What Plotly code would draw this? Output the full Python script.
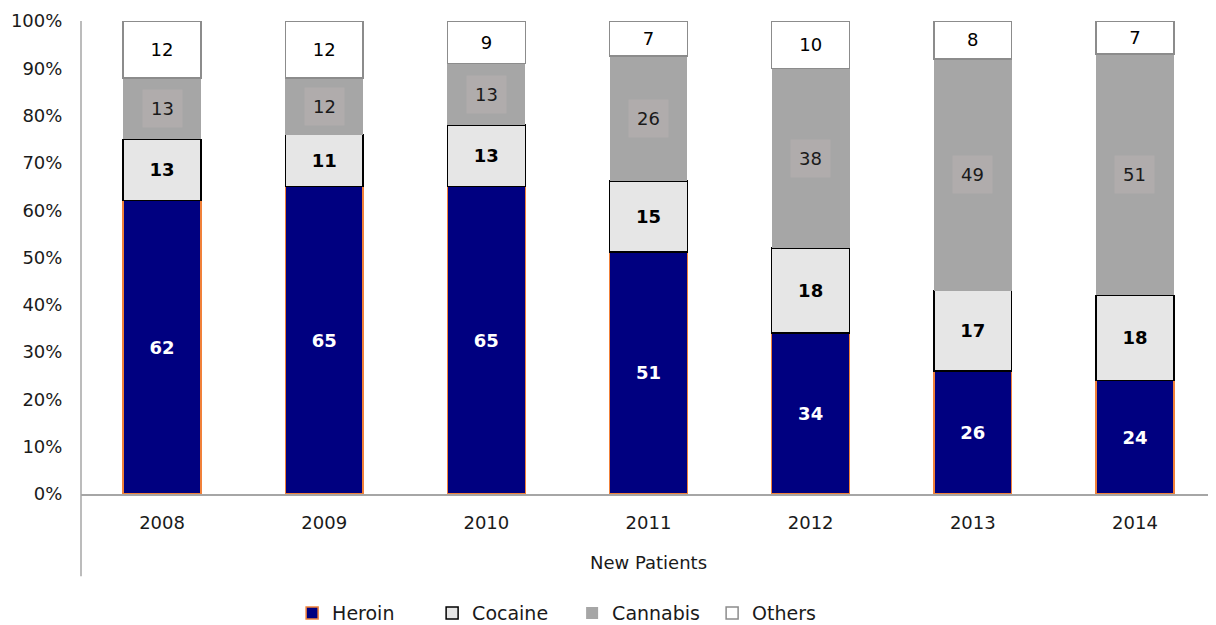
import plotly.graph_objects as go

years = ["2008", "2009", "2010", "2011", "2012", "2013", "2014"]
heroin = [62, 65, 65, 51.2, 34, 26, 24]
cocaine = [13, 11, 13, 15, 18, 17, 18]
cannabis = [13, 12, 13, 26.4, 38, 49, 51]
others = [12, 12, 9, 7.4, 10, 8, 7]
y_ticks = [0, 10, 20, 30, 40, 50, 60, 70, 80, 90, 100]
y_tick_text = [f"{v}%" for v in y_ticks]

FONT = "DejaVu Sans"

def lab(vals):
    return [str(int(round(v))) for v in vals]

fig = go.Figure()
fig.add_trace(go.Bar(
    name="Heroin", x=years, y=heroin, text=lab(heroin), textposition="inside",
    insidetextanchor="middle", textangle=0, constraintext="none",
    textfont=dict(color="white", size=18, family=FONT, weight="bold"),
    marker=dict(color="#000080", line=dict(color="#f0813a", width=1.5)),
))
fig.add_trace(go.Bar(
    name="Cocaine", x=years, y=cocaine, text=lab(cocaine), textposition="inside",
    insidetextanchor="middle", textangle=0, constraintext="none",
    textfont=dict(color="black", size=18, family=FONT, weight="bold"),
    marker=dict(color="#e6e6e6", line=dict(color="black", width=1.5)),
))
fig.add_trace(go.Bar(
    name="Cannabis", x=years, y=cannabis, textposition="none",
    marker=dict(color="#a6a6a6", line=dict(color="#a6a6a6", width=0)),
))
fig.add_trace(go.Bar(
    name="Others", x=years, y=others, text=lab(others), textposition="inside",
    insidetextanchor="middle", textangle=0, constraintext="none",
    textfont=dict(color="black", size=18, family=FONT),
    marker=dict(color="white", line=dict(color="#8c8c8c", width=1.5)),
))

for i, yr in enumerate(years):
    base = heroin[i] + cocaine[i]
    fig.add_annotation(
        x=i, y=base + cannabis[i] / 2, xref="x", yref="y",
        text=str(int(round(cannabis[i]))), showarrow=False,
        bgcolor="#b0acac", borderpad=8,
        font=dict(color="#1a1a1a", size=18, family=FONT),
    )

fig.update_layout(
    barmode="stack", bargap=0.52,
    width=1208, height=617,
    margin=dict(l=73, r=0, t=13, b=131, autoexpand=False),
    plot_bgcolor="white", paper_bgcolor="white",
    font=dict(family=FONT, size=18, color="#1a1a1a"),
    showlegend=True,
    legend=dict(orientation="h", x=0.186, xanchor="left", y=-0.252, yanchor="middle",
                font=dict(size=19, color="#1a1a1a"),
                entrywidth=95, entrywidthmode="pixels",
                traceorder="normal"),
    shapes=[dict(type="line", xref="paper", yref="paper", x0=0, x1=0, y0=-0.174, y1=1,
                 line=dict(color="#a6a6a6", width=1.5))],
)
fig.update_xaxes(
    type="category", showline=True, linecolor="#a6a6a6", linewidth=1.5,
    showgrid=False, ticks="outside", ticklen=12, tickcolor="rgba(0,0,0,0)",
    tickfont=dict(size=18),
    title=dict(text="New Patients", font=dict(size=18), standoff=24),
    range=[-0.5, 6.5], automargin=False,
)
fig.update_yaxes(
    range=[0, 100], tickmode="array", tickvals=y_ticks, ticktext=y_tick_text,
    showgrid=False, showline=False, ticks="outside", ticklen=14,
    tickcolor="rgba(0,0,0,0)", tickfont=dict(size=18),
    zeroline=False, automargin=False,
)
fig.write_html("out.html")
